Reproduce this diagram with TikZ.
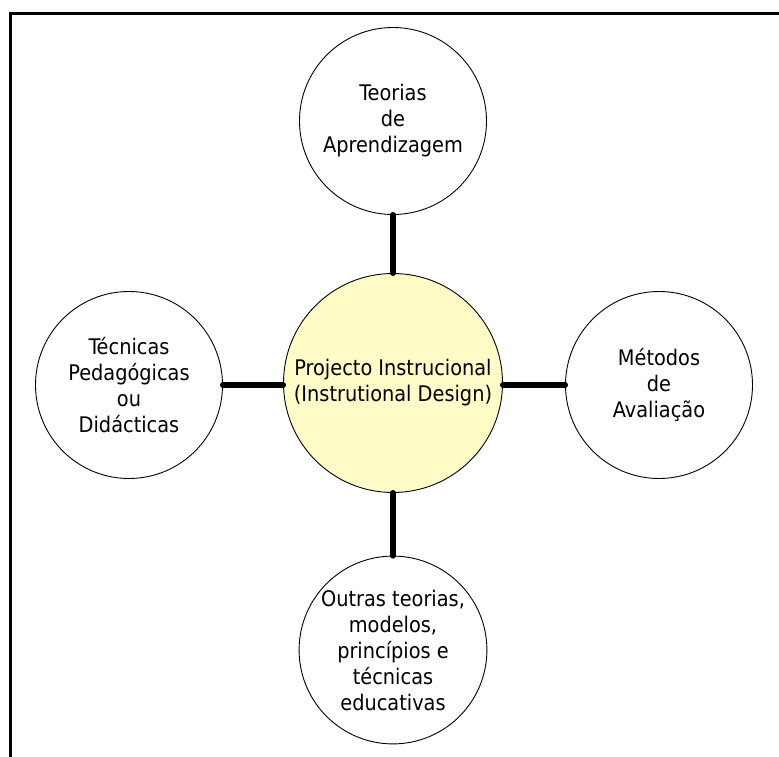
\documentclass[tikz,border=0pt]{standalone}
\usepackage{fontspec}
\setmainfont{DejaVu Sans Condensed}
\begin{document}
\begin{tikzpicture}[x=1pt,y=-1pt,
  topic/.style={circle, draw, line width=0.9pt, minimum size=187pt, inner sep=0pt,
    align=center, font=\fontsize{21.5}{26}\selectfont},
  hub/.style={topic, minimum size=219pt, fill=yellow!22},
  link/.style={line width=6pt, line cap=round}]
  \useasboundingbox (0,0) rectangle (779,757);
  % page frame (top and left rule)
  \draw[line width=3pt] (10,757) -- (10,14) -- (779,14);

  \node[hub] (pid) at (393,383) {Projecto Instrucional\\(Instrutional Design)};
  \node[topic] (teo) at (393,121) {Teorias\\de\\Aprendizagem};
  \node[topic] (tec) at (129,385) {Técnicas\\Pedagógicas\\ou\\Didácticas};
  \node[topic] (met) at (659,385) {Métodos\\de\\Avaliação};
  \node[topic] (out) at (393,650) {Outras teorias,\\modelos,\\princípios e\\técnicas\\educativas};

  \draw[link] (teo.south) -- (pid.north);
  \draw[link] (out.north) -- (pid.south);
  \draw[link] (tec.east) -- (tec.east -| pid.west);
  \draw[link] (met.west) -- (met.west -| pid.east);
\end{tikzpicture}
\end{document}
